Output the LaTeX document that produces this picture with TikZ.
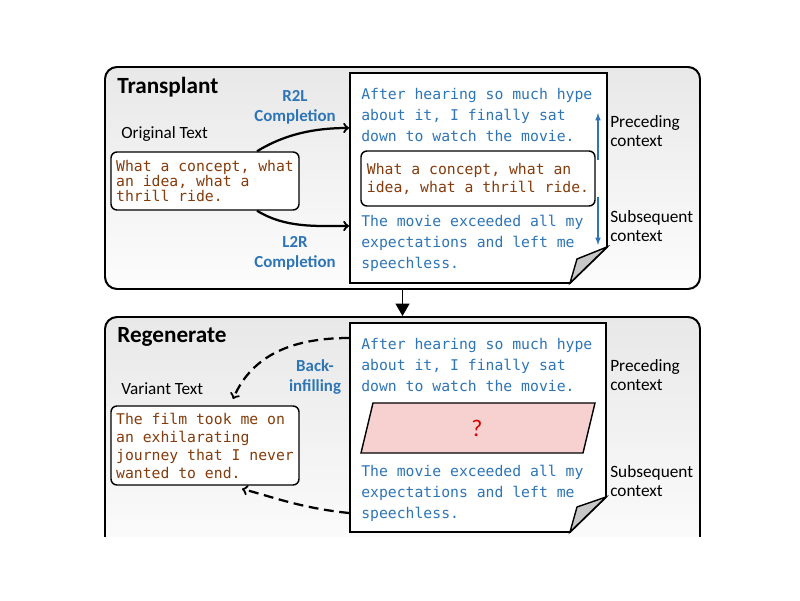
\documentclass[tikz,border=0pt]{standalone}
\usepackage{fontspec}
\setmainfont{Carlito}
\newfontfamily\codefont{DejaVu Sans Mono}
\usepackage{tikz}
\usetikzlibrary{arrows,positioning}

\definecolor{lblue}{HTML}{2E75B6}
\definecolor{lbrown}{HTML}{843C0C}
\definecolor{lpink}{HTML}{F7D0D0}

\begin{document}
\begin{tikzpicture}[x=0.25mm,y=0.25mm,>=to,
    panel/.style={draw,line width=1.4pt,rounded corners=3mm,top color=black!9,bottom color=black!1,minimum width=148.75mm},
    page/.style={draw,line width=1.4pt,fill=white},
    flap/.style={draw,line width=1pt,fill=black!22},
    txtbox/.style={draw,line width=1pt,rounded corners=1.5mm,fill=white,align=left,text=lbrown,inner sep=0pt},
    pagetxt/.style={anchor=west,align=left,inner sep=0pt,text=lblue,font=\codefont\fontsize{10.5}{14.9}\selectfont},
    ctx/.style={anchor=west,align=left,inner sep=0pt,font=\fontsize{12.3}{13.5}\selectfont},
    method/.style={align=center,text=lblue,font=\bfseries\fontsize{12}{14.2}\selectfont},
    title/.style={anchor=west,inner sep=0pt,font=\bfseries\fontsize{16.5}{18}\selectfont},
    lbl/.style={anchor=west,inner sep=0pt,font=\fontsize{12.2}{14}\selectfont},
    link/.style={->,line width=1.6pt}]
    \useasboundingbox (0,0) rectangle (800,600);

    \begin{scope}
    \clip (0,63) rectangle (800,600);

    % panels
    \node[panel,minimum height=55.5mm] (top) at (402.5,422) {};
    \node[panel,minimum height=61.25mm] (bot) at (402.5,160.5) {};

    \draw[->,>=triangle 60,line width=1.4pt] (top.south) -- (bot.north);

    % transplant
    \node[title] (transplant) at (117,513) {Transplant};
    \node[lbl] (origlbl) at (121,466) {Original Text};
    \node[txtbox,minimum width=47mm,minimum height=14.5mm,font=\codefont\fontsize{10.5}{10.6}\selectfont] (orig) at (205,419)
        {What a concept, what\\an idea, what a\\thrill ride.};

    \node[method] (r2l) at (295,493) {R2L\\Completion};
    \node[method] (l2r) at (295,347) {L2R\\Completion};

    \coordinate (d1nw) at (350,527);
    \coordinate (d1ne) at (607,527);
    \coordinate (d1e) at (607,353);
    \coordinate (d1s) at (570,317);
    \coordinate (d1sw) at (350,317);
    \draw[page] (d1nw) -- (d1ne) -- (d1e) -- (d1s) -- (d1sw) -- cycle;
    \draw[flap] (d1s) -- (577,341) -- (d1e) -- cycle;

    \node[pagetxt] (pre1) at (361,485) {After hearing so much hype\\about it, I finally sat\\down to watch the movie.};
    \node[txtbox,minimum width=58.5mm,minimum height=13.75mm,font=\codefont\fontsize{10.5}{12.8}\selectfont] (mid1) at (478,421.5)
        {What a concept, what an\\idea, what a thrill ride.};
    \node[pagetxt] (post1) at (361,357) {The movie exceeded all my\\expectations and left me\\speechless.};

    \coordinate (r2lend) at (349,472);
    \coordinate (l2rend) at (349,374);
    \draw[link] ([xshift=13mm]orig.north) .. controls (285,466) and (315,472) .. (r2lend);
    \draw[link] ([xshift=13mm]orig.south) .. controls (285,372) and (315,374) .. (l2rend);

    \coordinate (up0) at (598,440);
    \coordinate (up1) at (598,487);
    \coordinate (dn0) at (598,403);
    \coordinate (dn1) at (598,355);
    \draw[-latex,lblue,line width=0.8pt] (up0) -- (up1);
    \draw[-latex,lblue,line width=0.8pt] (dn0) -- (dn1);

    \node[ctx] (prec1) at (610,468.5) {Preceding\\context};
    \node[ctx] (subs1) at (610,373.5) {Subsequent\\context};

    % regenerate
    \node[title] (regen) at (117,263) {Regenerate};
    \node[lbl] (varlbl) at (121,211) {Variant Text};
    \node[txtbox,minimum width=47mm,minimum height=19.75mm,font=\codefont\fontsize{10.5}{12.8}\selectfont] (varnt) at (205,154.5)
        {The film took me on\\an exhilarating\\journey that I never\\wanted to end.};

    \node[method] (backfill) at (315,223) {Back-\\infilling};

    \coordinate (d2nw) at (350,277);
    \coordinate (d2ne) at (606,277);
    \coordinate (d2e) at (606,103);
    \coordinate (d2s) at (570,68);
    \coordinate (d2sw) at (350,68);
    \draw[page] (d2nw) -- (d2ne) -- (d2e) -- (d2s) -- (d2sw) -- cycle;
    \draw[flap] (d2s) -- (577,93) -- (d2e) -- cycle;

    \node[pagetxt] (pre2) at (361,235) {After hearing so much hype\\about it, I finally sat\\down to watch the movie.};
    \coordinate (g1) at (361,147);
    \coordinate (g2) at (583,147);
    \coordinate (g3) at (595,197);
    \coordinate (g4) at (373,197);
    \draw[fill=lpink,line width=1pt] (g1) -- (g2) -- (g3) -- (g4) -- cycle;
    \node[text=red!85!black,font=\fontsize{17}{17}\selectfont] (ask) at (477,172) {?};
    \node[pagetxt] (post2) at (361,107) {The movie exceeded all my\\expectations and left me\\speechless.};

    \node[ctx] (prec2) at (610,224.5) {Preceding\\context};
    \node[ctx] (subs2) at (610,119) {Subsequent\\context};

    \coordinate (bf1) at (349,262);
    \coordinate (bf2) at (349,87);
    \coordinate (vt1) at (233,201);
    \coordinate (vt2) at (242,111);
    \draw[link,dash pattern=on 7pt off 4pt] (bf1) .. controls (285,262) and (250,240) .. (vt1);
    \draw[link,dash pattern=on 7pt off 4pt] (bf2) .. controls (300,92) and (270,104) .. (vt2);
    \end{scope}
\end{tikzpicture}
\end{document}
